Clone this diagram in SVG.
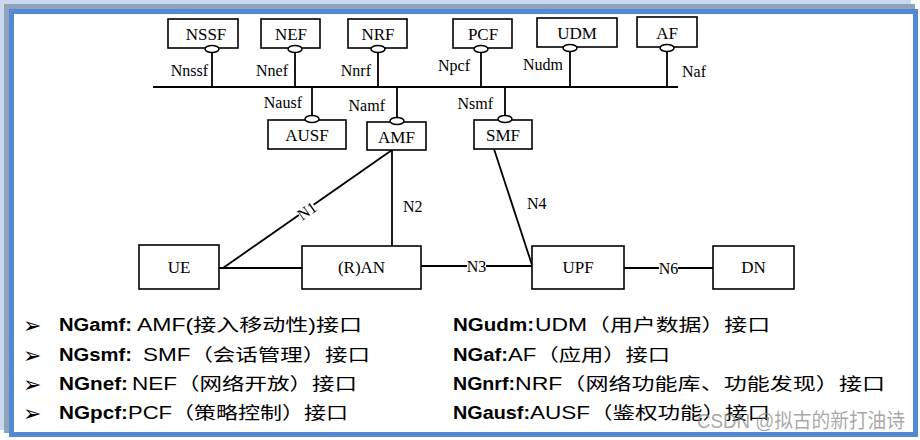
<svg xmlns="http://www.w3.org/2000/svg" width="920" height="440" viewBox="0 0 920 440">
<style>
.box{fill:#fff;stroke:#000;stroke-width:1.6}
.ln{stroke:#000;stroke-width:1.8;fill:none}
.oval{fill:#fff;stroke:#000;stroke-width:1.5}
.bl{font-family:"Liberation Serif","Times New Roman",serif;font-size:17px;fill:#000;text-anchor:middle}
.il{font-family:"Liberation Serif","Times New Roman",serif;font-size:16px;fill:#000}
.tx{font-family:"Liberation Sans","Noto Sans CJK SC",sans-serif;font-size:17.5px;fill:#000}
.b{font-weight:bold}
.bul{font-family:"DejaVu Sans",sans-serif;font-size:22px;fill:#000}
</style>
<rect x="0" y="0" width="920" height="440" fill="#fff"/>
<g id="frame">
<rect x="0" y="0" width="911" height="430" fill="#C9D8EC"/>
<rect x="4" y="4" width="911" height="429" fill="#8FA2BC"/>
<rect x="11.5" y="11.5" width="904" height="423" fill="#fff" stroke="#5289D5" stroke-width="5"/>
</g>
<g id="connectors">
<line class="ln" x1="153" y1="87" x2="678" y2="87"/>
<line class="ln" x1="212" y1="51" x2="212" y2="87"/>
<line class="ln" x1="295" y1="51" x2="295" y2="87"/>
<line class="ln" x1="378" y1="51" x2="378" y2="87"/>
<line class="ln" x1="481" y1="51" x2="481" y2="87"/>
<line class="ln" x1="570" y1="51" x2="570" y2="87"/>
<line class="ln" x1="667" y1="51" x2="667" y2="87"/>
<line class="ln" x1="312" y1="87" x2="312" y2="117"/>
<line class="ln" x1="397" y1="87" x2="397" y2="119"/>
<line class="ln" x1="505" y1="87" x2="505" y2="117"/>
<line class="ln" x1="219" y1="268" x2="302" y2="268"/>
<line class="ln" x1="223" y1="268" x2="392" y2="150"/>
<line class="ln" x1="392" y1="150" x2="392" y2="246"/>
<line class="ln" x1="421" y1="266" x2="532" y2="266"/>
<line class="ln" x1="494" y1="149" x2="532" y2="265"/>
<line class="ln" x1="624" y1="268" x2="713" y2="268"/>
<g transform="translate(307,211) rotate(-34.7)">
<rect x="-9" y="-6" width="18" height="12" fill="#fff"/>
<text class="il" x="0" y="5.5" text-anchor="middle">N1</text>
</g>
<rect x="467" y="260" width="19" height="12" fill="#fff"/>
<text class="il" x="476.5" y="271.5" text-anchor="middle">N3</text>
<rect x="659" y="262" width="19" height="12" fill="#fff"/>
<text class="il" x="668.5" y="273.5" text-anchor="middle">N6</text>
<text class="il" x="403" y="212">N2</text>
<text class="il" x="527" y="209">N4</text>
<text class="il" x="208" y="76" text-anchor="end">Nnssf</text>
<text class="il" x="288" y="76" text-anchor="end">Nnef</text>
<text class="il" x="371" y="76" text-anchor="end">Nnrf</text>
<text class="il" x="470" y="71" text-anchor="end">Npcf</text>
<text class="il" x="563" y="70" text-anchor="end">Nudm</text>
<text class="il" x="682" y="77">Naf</text>
<text class="il" x="302" y="108" text-anchor="end">Nausf</text>
<text class="il" x="385" y="111" text-anchor="end">Namf</text>
<text class="il" x="493" y="109" text-anchor="end">Nsmf</text>
</g>
<g id="NSSF"><rect class="box" x="168" y="19" width="70" height="29"/><text class="bl" x="206" y="40">NSSF</text><ellipse class="oval" cx="212" cy="49" rx="7" ry="3.5"/></g>
<g id="NEF"><rect class="box" x="261" y="19" width="59" height="29"/><text class="bl" x="291" y="40">NEF</text><ellipse class="oval" cx="295" cy="49" rx="7" ry="3.5"/></g>
<g id="NRF"><rect class="box" x="348" y="19" width="59" height="29"/><text class="bl" x="378" y="40">NRF</text><ellipse class="oval" cx="378" cy="49" rx="7" ry="3.5"/></g>
<g id="PCF"><rect class="box" x="453" y="19" width="59" height="29"/><text class="bl" x="483" y="40">PCF</text><ellipse class="oval" cx="481" cy="49" rx="7" ry="3.5"/></g>
<g id="UDM"><rect class="box" x="537" y="18" width="80" height="29"/><text class="bl" x="577" y="39">UDM</text><ellipse class="oval" cx="570" cy="48" rx="7" ry="3.5"/></g>
<g id="AF"><rect class="box" x="637" y="17" width="60" height="30"/><text class="bl" x="667" y="39">AF</text><ellipse class="oval" cx="667" cy="48" rx="7" ry="3.5"/></g>
<g id="AUSF"><rect class="box" x="268" y="120" width="78" height="29"/><text class="bl" x="307" y="141">AUSF</text><ellipse class="oval" cx="312" cy="119" rx="7" ry="3.5"/></g>
<g id="AMF"><rect class="box" x="367" y="122" width="59" height="28"/><text class="bl" x="396.5" y="143">AMF</text><ellipse class="oval" cx="397" cy="121" rx="7" ry="3.5"/></g>
<g id="SMF"><rect class="box" x="474" y="120" width="58" height="29"/><text class="bl" x="503" y="141">SMF</text><ellipse class="oval" cx="505" cy="119" rx="7" ry="3.5"/></g>
<g id="UE"><rect class="box" x="139" y="245" width="80" height="44"/><text class="bl" x="179" y="273">UE</text></g>
<g id="RAN"><rect class="box" x="302" y="246" width="119" height="43"/><text class="bl" x="361.5" y="273">(R)AN</text></g>
<g id="UPF"><rect class="box" x="532" y="246" width="92" height="43"/><text class="bl" x="578" y="273">UPF</text></g>
<g id="DN"><rect class="box" x="713" y="246" width="81" height="43"/><text class="bl" x="753.5" y="273">DN</text></g>
<g id="legend">
<text class="bul" x="23" y="333">➢</text>
<text class="bul" x="23" y="363">➢</text>
<text class="bul" x="23" y="392">➢</text>
<text class="bul" x="23" y="421">➢</text>
<text class="tx b" x="59" y="331" textLength="73" lengthAdjust="spacingAndGlyphs">NGamf:</text>
<text class="tx" x="137" y="331" textLength="225" lengthAdjust="spacingAndGlyphs">AMF(接入移动性)接口</text>
<text class="tx b" x="59" y="361" textLength="73" lengthAdjust="spacingAndGlyphs">NGsmf:</text>
<text class="tx" x="143" y="361" textLength="227" lengthAdjust="spacingAndGlyphs">SMF（会话管理）接口</text>
<text class="tx b" x="59" y="390" textLength="69" lengthAdjust="spacingAndGlyphs">NGnef:</text>
<text class="tx" x="132" y="390" textLength="225" lengthAdjust="spacingAndGlyphs">NEF（网络开放）接口</text>
<text class="tx b" x="59" y="419" textLength="69" lengthAdjust="spacingAndGlyphs">NGpcf:</text>
<text class="tx" x="128" y="419" textLength="220" lengthAdjust="spacingAndGlyphs">PCF（策略控制）接口</text>
<text class="tx b" x="453" y="331" textLength="81" lengthAdjust="spacingAndGlyphs">NGudm:</text>
<text class="tx" x="535" y="331" textLength="235" lengthAdjust="spacingAndGlyphs">UDM（用户数据）接口</text>
<text class="tx b" x="453" y="361" textLength="55" lengthAdjust="spacingAndGlyphs">NGaf:</text>
<text class="tx" x="508" y="361" textLength="162" lengthAdjust="spacingAndGlyphs">AF（应用）接口</text>
<text class="tx b" x="453" y="390" textLength="62" lengthAdjust="spacingAndGlyphs">NGnrf:</text>
<text class="tx" x="515" y="390" textLength="370" lengthAdjust="spacingAndGlyphs">NRF（网络功能库、功能发现）接口</text>
<text class="tx b" x="453" y="419" textLength="77" lengthAdjust="spacingAndGlyphs">NGausf:</text>
<text class="tx" x="530" y="419" textLength="240" lengthAdjust="spacingAndGlyphs">AUSF（鉴权功能）接口</text>
</g>
<text x="697" y="428" font-family="Liberation Sans,Noto Sans CJK SC,sans-serif" font-size="20" fill="#8a8a8a" fill-opacity="0.75" textLength="208" lengthAdjust="spacingAndGlyphs">CSDN @拟古的新打油诗</text>
</svg>
